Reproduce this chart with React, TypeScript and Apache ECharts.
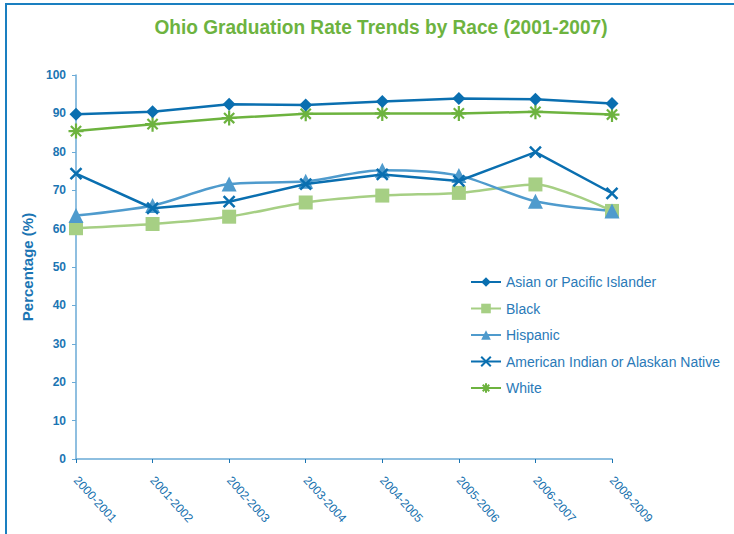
import React, { useEffect, useRef } from "react";
import * as echarts from "echarts";

const categories = ["2000-2001", "2001-2002", "2002-2003", "2003-2004", "2004-2005", "2005-2006", "2006-2007", "2008-2009"];
const asian = [89.8, 90.4, 92.4, 92.2, 93.1, 93.9, 93.7, 92.6];
const black = [60.1, 61.2, 63.1, 66.8, 68.6, 69.3, 71.5, 64.6];
const hispanic = [63.4, 66.0, 71.6, 72.3, 75.2, 73.8, 67.1, 64.6];
const amerIndian = [74.3, 65.3, 67.0, 71.6, 74.1, 72.4, 79.9, 69.2];
const white = [85.4, 87.2, 88.8, 89.9, 90.0, 90.0, 90.4, 89.7];
const seriesNames = ["Asian or Pacific Islander", "Black", "Hispanic", "American Indian or Alaskan Native", "White"];
const titleText = "Ohio Graduation Rate Trends by Race (2001-2007)";

const X_PATH = "path://M0,0L10,10M10,0L0,10";
const STAR_PATH = "path://M5,0L5,10M0,5L10,5M1.6,1.6L8.4,8.4M8.4,1.6L1.6,8.4";

export default function App() {
  const ref = useRef<HTMLDivElement>(null);
  useEffect(() => {
    if (!ref.current) return;
    const chart = echarts.init(ref.current, null, { renderer: "svg" });
    const labelColor = "#1b75b3";
    const axisColor = "#6aaad6";
    const mk = (name: string, data: number[], color: string, symbol: string, size: number, smooth: number | boolean, extra: any = {}) => ({
      name,
      type: "line",
      data,
      smooth,
      symbol,
      symbolSize: size,
      symbolKeepAspect: true,
      lineStyle: { color, width: 2.5 },
      itemStyle: { color, ...(extra.itemStyle || {}) },
      z: extra.z || 2,
    });
    chart.setOption({
      animation: false,
      backgroundColor: "#ffffff",
      legend: {
        orient: "vertical",
        left: 465,
        top: 270,
        itemWidth: 30,
        itemHeight: 12,
        itemGap: 12.5,
        data: seriesNames,
        textStyle: { color: "#2a7ab8", fontSize: 14, fontFamily: "'Liberation Sans', sans-serif" },
      },
      grid: { left: 76, right: 122, top: 75, bottom: 75, containLabel: false },
      xAxis: {
        type: "category",
        data: categories,
        boundaryGap: false,
        axisLine: { lineStyle: { color: axisColor, width: 1.5 } },
        axisTick: { alignWithLabel: true, length: 4, lineStyle: { color: "#1b75b3" } },
        axisLabel: {
          rotate: -48,
          interval: 0,
          color: "#1470ae",
          fontSize: 12,
          margin: 19,
          fontFamily: "'Liberation Sans', sans-serif",
        },
      },
      yAxis: {
        type: "value",
        min: 0,
        max: 100,
        interval: 10,
        name: "Percentage (%)",
        nameLocation: "middle",
        nameGap: 31,
        nameTextStyle: { color: labelColor, fontWeight: "bold", fontSize: 15, fontFamily: "'Liberation Sans', sans-serif" },
        axisLine: { show: true, lineStyle: { color: axisColor, width: 1.5 } },
        axisTick: { show: true, length: 4, lineStyle: { color: axisColor } },
        splitLine: { show: false },
        axisLabel: { color: labelColor, fontWeight: "bold", fontSize: 12, margin: 10, fontFamily: "'Liberation Sans', sans-serif" },
      },
      series: [
        mk(seriesNames[0], asian, "#0a6fb0", "diamond", 13, false, { z: 5 }),
        mk(seriesNames[1], black, "#a6cf84", "rect", 14, 0.25),
        mk(seriesNames[2], hispanic, "#4f9bcd", "triangle", 15, 0.3),
        mk(seriesNames[3], amerIndian, "#0a6fb0", X_PATH, 11, false, { itemStyle: { borderColor: "#0a6fb0", borderWidth: 2.5 }, z: 4 }),
        mk(seriesNames[4], white, "#6db33f", STAR_PATH, 15, false, { itemStyle: { borderColor: "#6db33f", borderWidth: 2.2 }, z: 3 }),
      ],
      graphic: [
        { type: "line", shape: { x1: 6, y1: 4, x2: 6, y2: 534 }, style: { stroke: "#1a7fc0", lineWidth: 2 } },
        { type: "line", shape: { x1: 5, y1: 4, x2: 734, y2: 4 }, style: { stroke: "#1a7fc0", lineWidth: 2 } },
        {
          type: "text",
          x: 381,
          y: 27,
          scaleX: 0.91,
          style: {
            text: titleText,
            fill: "#6db33f",
            font: "bold 21px 'Liberation Sans', sans-serif",
            textAlign: "center",
            textVerticalAlign: "middle",
          },
        },
      ],
    });
    return () => chart.dispose();
  }, []);
  return <div ref={ref} style={{ position: "fixed", left: 0, top: 0, width: 734, height: 534 }} />;
}
